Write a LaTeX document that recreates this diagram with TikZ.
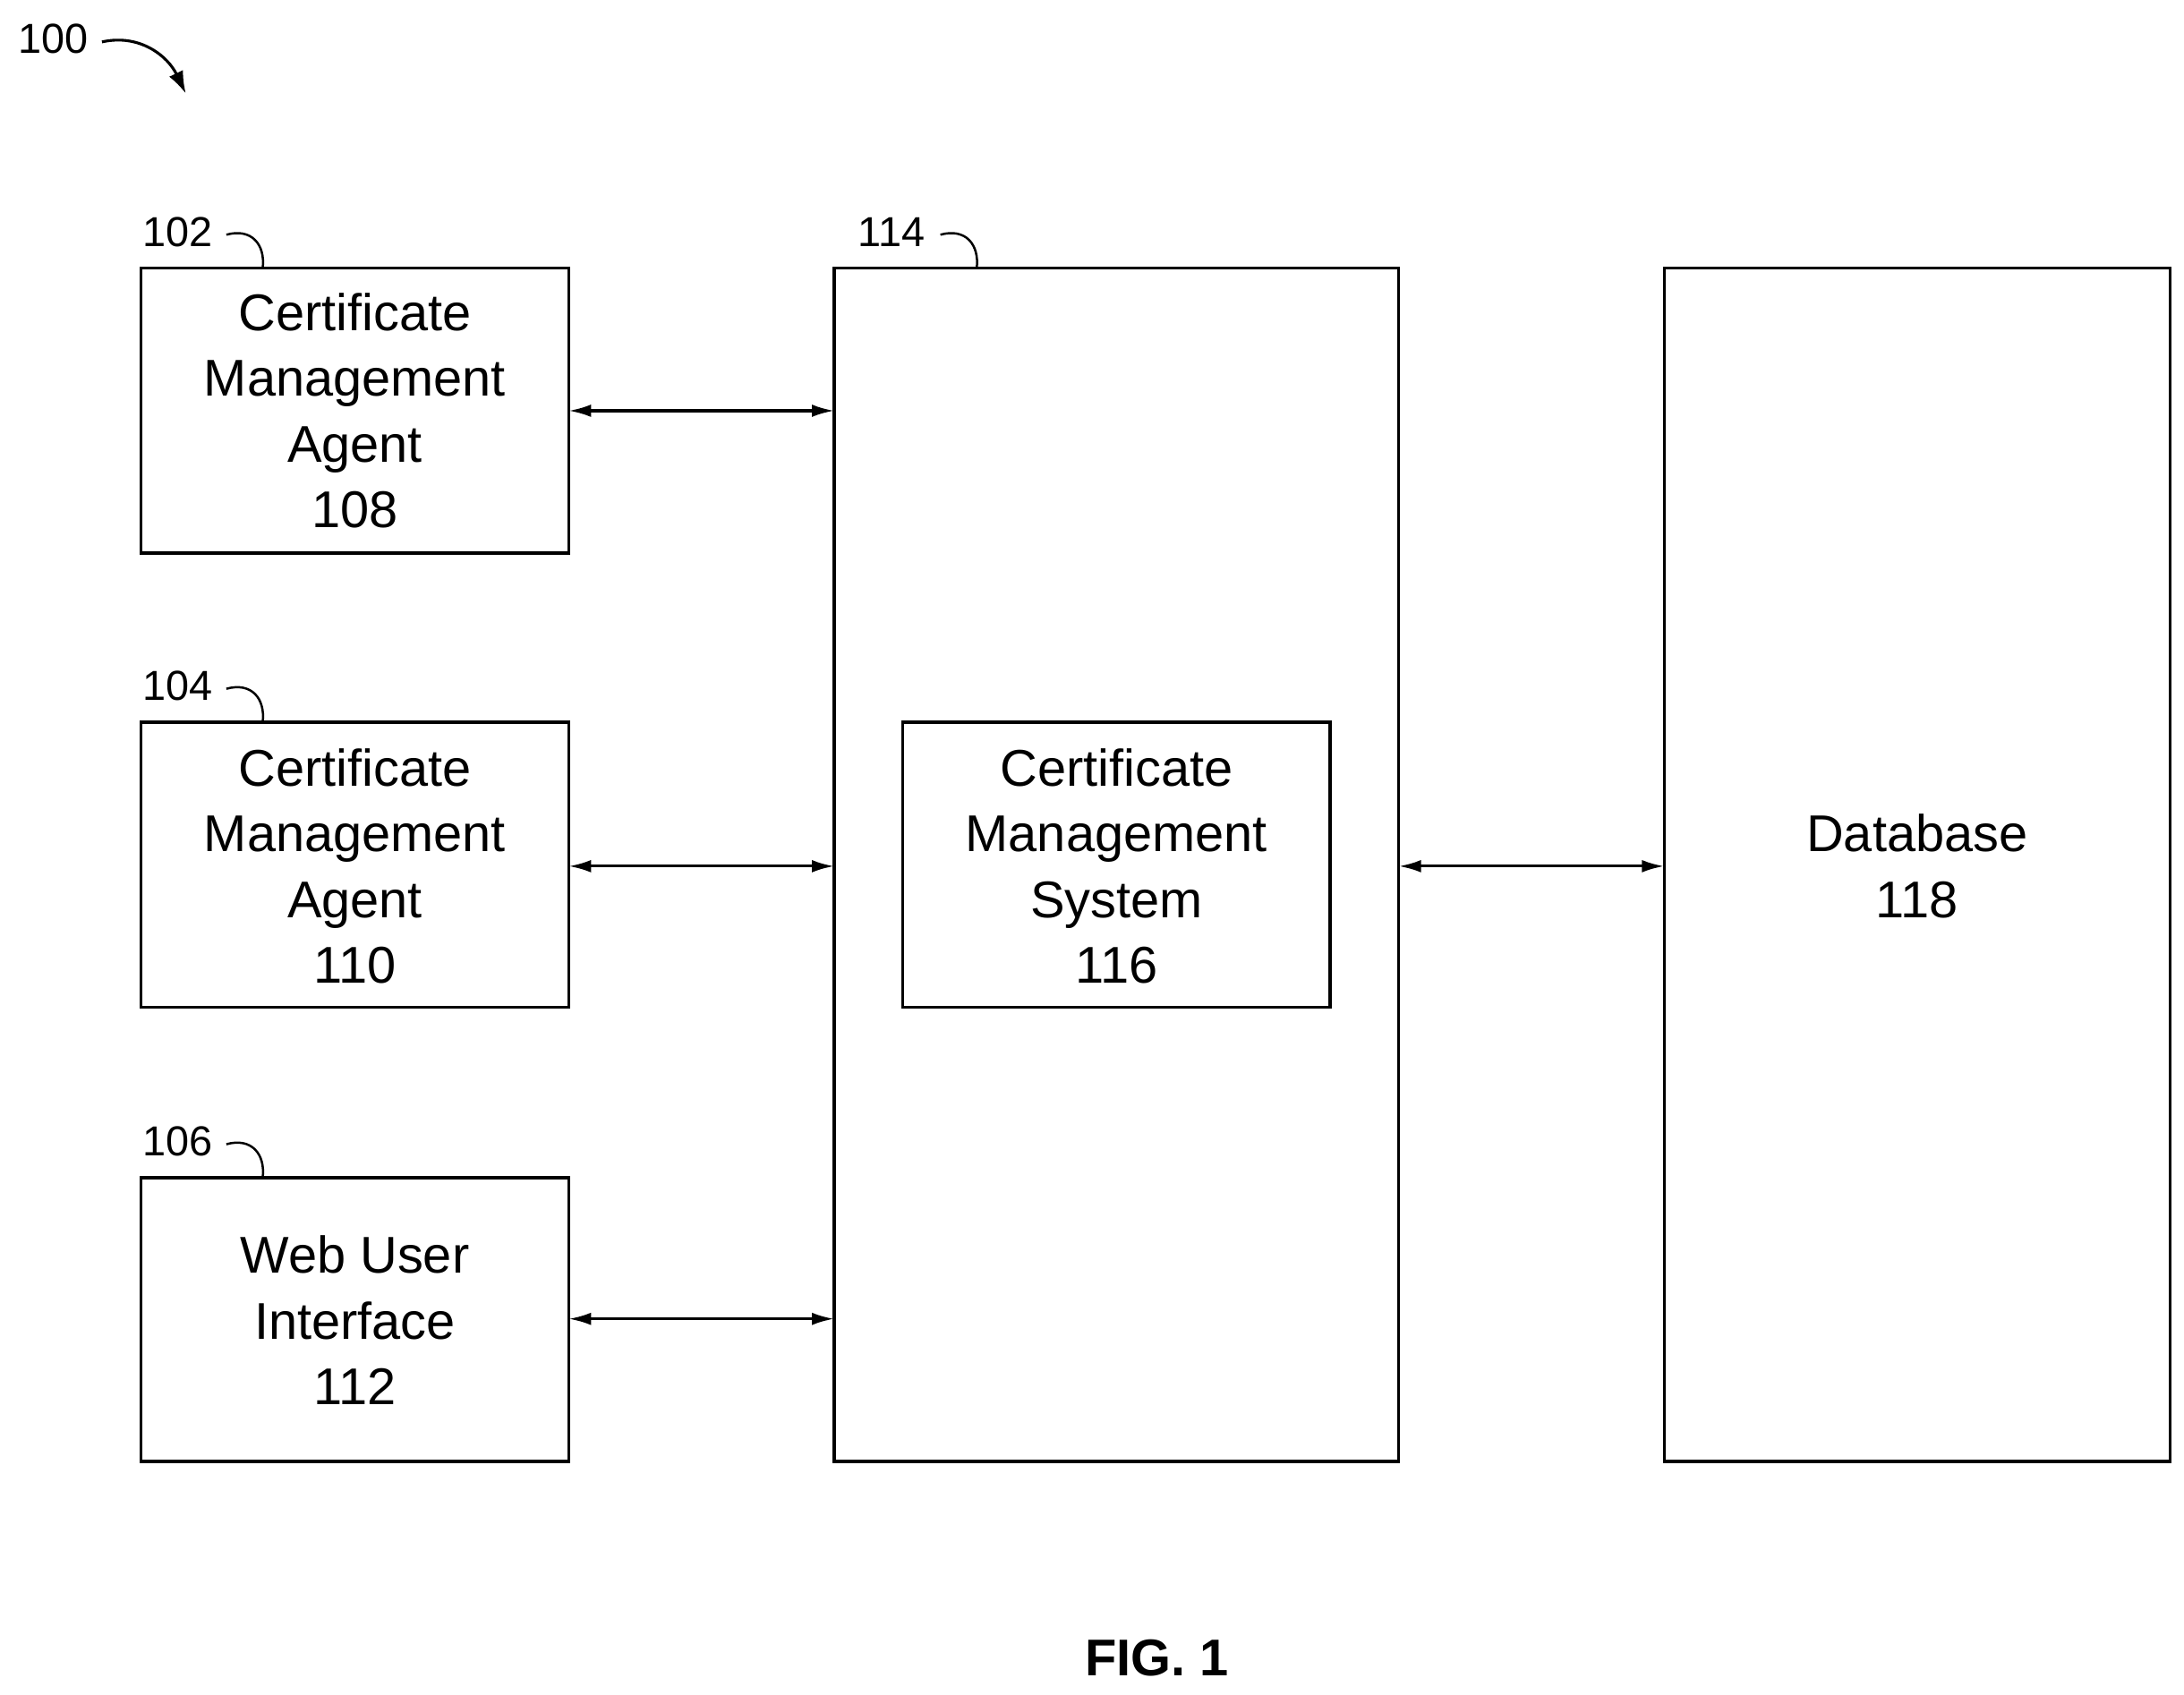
\documentclass[tikz,border=0pt]{standalone}
\usepackage{fontspec}
\setmainfont{Liberation Sans}
\usetikzlibrary{arrows.meta}
\begin{document}
\begin{tikzpicture}[x=1pt,y=-1pt,
 box/.style={draw,line width=2.2pt,inner sep=0pt},
 txt/.style={align=center,font=\fontsize{37}{47}\selectfont},
 lab/.style={font=\fontsize{30}{34}\selectfont},
 conn/.style={line width=2pt,{Latex[length=16pt,width=9pt]}-{Latex[length=16pt,width=9pt]}}]
\useasboundingbox (0,0) rectangle (1563,1213);
\draw[box] (101,192) rectangle (407,396); \coordinate (a) at (407,294);
\node[txt] (ta) at (254,294) {Certificate\\Management\\Agent\\108};
\draw[box] (101,517) rectangle (407,721); \coordinate (b) at (407,620);
\node[txt] (tb) at (254,620) {Certificate\\Management\\Agent\\110};
\draw[box] (101,843) rectangle (407,1046); \coordinate (c) at (407,944);
\node[txt] (tc) at (254,945) {Web User\\Interface\\112};
\draw[box] (597,192) rectangle (1001,1046);
\coordinate (s1) at (597,294); \coordinate (s2) at (597,620); \coordinate (s3) at (597,944); \coordinate (s4) at (1001,620);
\draw[box] (646,517) rectangle (952,721);
\node[txt] (tm) at (799,620) {Certificate\\Management\\System\\116};
\draw[box] (1191,192) rectangle (1553,1046); \coordinate (d) at (1191,620);
\node[txt] (td) at (1372,620) {Database\\118};
\draw[conn] (a) -- (s1); \draw[conn] (b) -- (s2); \draw[conn] (c) -- (s3); \draw[conn] (s4) -- (d);
\node[lab] (l102) at (127,166) {102};
\node[lab] (l104) at (127,491) {104};
\node[lab] (l106) at (127,817) {106};
\node[lab] (l114) at (638,166) {114};
\node[lab] (l100) at (38,28) {100};
\draw[line width=1.6pt] (162,168) .. controls (180,163) and (190,175) .. (188,192);
\draw[line width=1.6pt] (162,493) .. controls (180,488) and (190,500) .. (188,517);
\draw[line width=1.6pt] (162,819) .. controls (180,814) and (190,826) .. (188,843);
\draw[line width=1.6pt] (673,168) .. controls (691,163) and (701,175) .. (699,192);
\draw[line width=2pt,-{Latex[length=16pt,width=11pt]}] (73,30) .. controls (100,24) and (120,40) .. (133,67);
\node[font=\bfseries\fontsize{37}{40}\selectfont] (fig) at (828,1187) {FIG. 1};
\end{tikzpicture}
\end{document}
